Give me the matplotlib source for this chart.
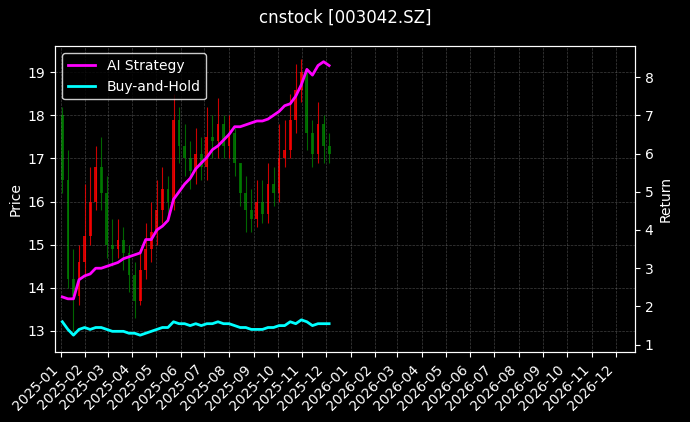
import matplotlib.pyplot as plt
import matplotlib.dates as mdates
import pandas as pd

plt.style.use('dark_background')

# weekly bars
dates = pd.date_range('2025-01-03', periods=49, freq='7D')
opens  = [18.0, 16.5, 14.2, 13.8, 14.6, 15.2, 16.0, 16.8, 16.2, 15.0, 14.9, 15.1, 14.8,
          14.3, 13.7, 14.4, 14.9, 15.3, 15.8, 16.3, 16.0, 17.9, 17.3, 17.0, 16.7, 17.1,
          16.8, 17.5, 17.4, 17.8, 17.3, 17.6, 16.9, 16.2, 15.8, 15.6, 16.0, 15.7, 16.4,
          16.2, 17.0, 17.2, 17.9, 18.6, 19.0, 17.6, 17.1, 17.8, 17.3]
closes = [16.5, 14.2, 13.8, 14.6, 15.2, 16.0, 16.8, 16.2, 15.0, 14.9, 15.1, 14.8, 14.3,
          13.7, 14.4, 14.9, 15.3, 15.8, 16.3, 16.0, 17.9, 17.3, 17.0, 16.7, 17.1, 16.8,
          17.5, 17.4, 17.8, 17.3, 17.6, 16.9, 16.2, 15.8, 15.6, 16.0, 15.7, 16.4, 16.2,
          17.0, 17.2, 17.9, 18.6, 19.0, 17.6, 17.1, 17.8, 17.3, 17.1]
highs  = [18.2, 17.2, 14.9, 15.0, 16.4, 16.8, 17.3, 17.5, 16.6, 15.6, 15.6, 15.4, 15.0,
          14.6, 14.8, 15.5, 16.0, 16.5, 16.8, 16.6, 18.5, 18.2, 17.8, 17.4, 17.7, 17.5,
          18.2, 18.0, 18.4, 18.0, 18.0, 17.7, 16.9, 16.6, 16.3, 16.5, 16.5, 16.9, 16.8,
          17.8, 17.9, 18.5, 19.2, 19.3, 19.0, 17.9, 18.3, 18.0, 17.6]
lows   = [16.2, 14.0, 13.0, 13.6, 14.3, 15.0, 15.8, 15.8, 14.7, 14.5, 14.7, 14.4, 13.9,
          13.3, 13.6, 14.2, 14.6, 15.0, 15.5, 15.6, 15.8, 16.9, 16.6, 16.3, 16.4, 16.5,
          16.5, 17.0, 17.0, 17.0, 17.0, 16.6, 15.9, 15.3, 15.3, 15.4, 15.5, 15.5, 15.9,
          16.0, 16.8, 17.0, 17.6, 18.3, 17.2, 16.8, 16.9, 16.9, 16.9]
ai_strategy = [2.25, 2.2, 2.2, 2.7, 2.8, 2.85, 3.0, 3.0, 3.05, 3.1, 3.15, 3.25, 3.3,
               3.35, 3.4, 3.75, 3.75, 4.0, 4.1, 4.25, 4.8, 5.0, 5.2, 5.35, 5.6, 5.75,
               5.9, 6.1, 6.2, 6.35, 6.5, 6.7, 6.7, 6.75, 6.8, 6.85, 6.85, 6.9, 7.0,
               7.1, 7.25, 7.3, 7.5, 7.8, 8.2, 8.05, 8.3, 8.4, 8.3]
buy_hold = [1.6, 1.4, 1.25, 1.4, 1.45, 1.4, 1.45, 1.45, 1.4, 1.35, 1.35, 1.35, 1.3,
            1.3, 1.25, 1.3, 1.35, 1.4, 1.45, 1.45, 1.6, 1.55, 1.55, 1.5, 1.55, 1.5,
            1.55, 1.55, 1.6, 1.55, 1.55, 1.5, 1.45, 1.45, 1.4, 1.4, 1.4, 1.45, 1.45,
            1.5, 1.5, 1.6, 1.55, 1.65, 1.6, 1.5, 1.55, 1.55, 1.55]

fig, ax = plt.subplots(figsize=(6.9, 4.22), dpi=100)
fig.patch.set_facecolor('black')
ax.set_facecolor('black')

for d, o, c, h, l in zip(dates, opens, closes, highs, lows):
    col = 'red' if c >= o else 'green'
    ax.vlines(d, l, h, color=col, linewidth=0.8, alpha=0.8)
    ax.bar(d, abs(c - o), bottom=min(o, c), width=3.5, color=col, alpha=0.8)

ax.set_ylabel('Price')
ax.set_ylim(12.5, 19.6)
ax.set_xlim(pd.Timestamp('2024-12-25'), pd.Timestamp('2026-12-25'))
ax.xaxis.set_major_locator(mdates.MonthLocator())
ax.xaxis.set_major_formatter(mdates.DateFormatter('%Y-%m'))
plt.setp(ax.get_xticklabels(), rotation=45, ha='right')
ax.grid(True, color='gray', linestyle='--', linewidth=0.5, alpha=0.5)

ax2 = ax.twinx()
ax2.plot(dates, ai_strategy, color='magenta', linewidth=2, label='AI Strategy')
ax2.plot(dates, buy_hold, color='cyan', linewidth=2, label='Buy-and-Hold')
ax2.set_ylabel('Return')
ax2.set_ylim(0.8, 8.8)
ax2.legend(loc='upper left', facecolor='black', edgecolor='white')

fig.suptitle('cnstock [003042.SZ]')
fig.subplots_adjust(left=0.08, right=0.92, top=0.89, bottom=0.165)
fig.savefig('out.png', facecolor='black')
